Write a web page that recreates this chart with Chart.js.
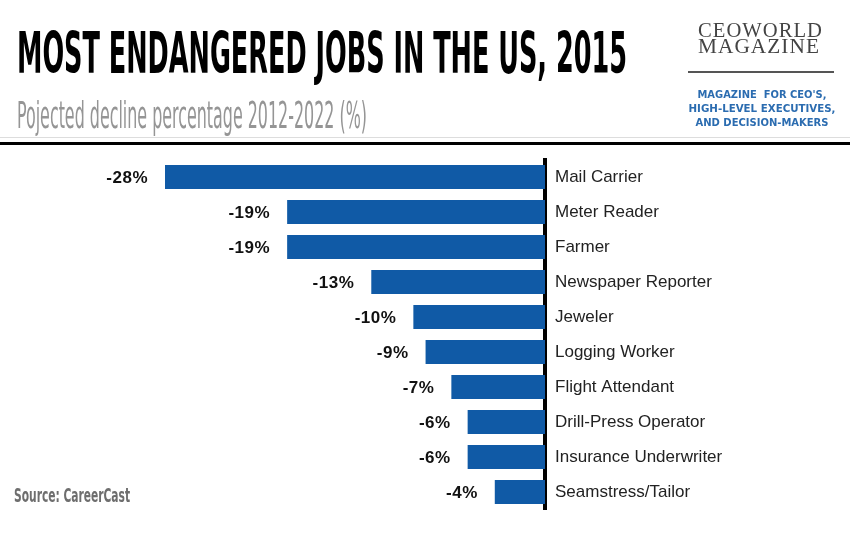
<!DOCTYPE html>
<html><head><meta charset="utf-8">
<script src="https://cdn.jsdelivr.net/npm/chart.js@4"></script>
<style>html,body{margin:0;padding:0;background:#fff}#wrap{width:850px;height:534px;position:relative}</style>
</head><body><div id="wrap"><canvas id="c" width="850" height="534"></canvas></div>
<script>
const categories = ['Mail Carrier','Meter Reader','Farmer','Newspaper Reporter','Jeweler','Logging Worker','Flight Attendant','Drill-Press Operator','Insurance Underwriter','Seamstress/Tailor'];
const declineValues = [-28, -19, -19, -12.8, -9.7, -8.8, -6.9, -5.7, -5.7, -3.7];
const valueLabels = ['-28%','-19%','-19%','-13%','-10%','-9%','-7%','-6%','-6%','-4%'];
const titleText = 'MOST ENDANGERED JOBS IN THE US, 2015';
const subtitleText = 'Pojected decline percentage 2012-2022 (%)';
const sourceText = 'Source: CareerCast';
const logoLines = ['CEOWORLD','MAGAZINE'];
const taglineLines = ["MAGAZINE  FOR CEO'S,", 'HIGH-LEVEL EXECUTIVES,', 'AND DECISION-MAKERS'];

function fitText(ctx, text, x, y, width, font, color, align) {
  ctx.font = font;
  const w = ctx.measureText(text).width;
  ctx.save();
  ctx.textAlign = 'left';
  ctx.textBaseline = 'alphabetic';
  const sx = width / w;
  const startX = align === 'center' ? x - width / 2 : x;
  ctx.translate(startX, y);
  ctx.scale(sx, 1);
  ctx.fillStyle = color;
  ctx.fillText(text, 0, 0);
  ctx.restore();
}

const decor = {
  id: 'decor',
  beforeDraw(chart) {
    const ctx = chart.ctx;
    ctx.save();
    ctx.fillStyle = '#fff';
    ctx.fillRect(0, 0, chart.width, chart.height);
    fitText(ctx, titleText, 17, 73, 610, 'bold 57px "DejaVu Sans"', '#000');
    fitText(ctx, subtitleText, 17, 128, 350, '38px "DejaVu Sans Condensed", "DejaVu Sans"', '#959595');
    fitText(ctx, sourceText, 14, 502, 116, 'bold 19px "DejaVu Sans Condensed", "DejaVu Sans"', '#6e6e6e');
    ctx.save();
    ctx.letterSpacing = '1px';
    fitText(ctx, logoLines[0], 698, 37, 125, '20px "Liberation Serif"', '#444');
    fitText(ctx, logoLines[1], 698, 53, 122, '20px "Liberation Serif"', '#444');
    ctx.restore();
    ctx.fillStyle = '#555';
    ctx.fillRect(688, 71, 146, 2);
    const tw = [129, 147, 133];
    const tb = [98, 112, 126];
    taglineLines.forEach((t, i) => fitText(ctx, t, 762, tb[i], tw[i], 'bold 11px "DejaVu Sans"', '#2b6cb0', 'center'));
    ctx.fillStyle = '#dddddd';
    ctx.fillRect(0, 137, 850, 1);
    ctx.fillStyle = '#000';
    ctx.fillRect(0, 142, 850, 3);
    ctx.restore();
  },
  afterDatasetsDraw(chart) {
    const ctx = chart.ctx;
    const meta = chart.getDatasetMeta(0);
    ctx.save();
    ctx.font = 'bold 17px "Liberation Sans"';
    ctx.letterSpacing = '0.5px';
    ctx.fillStyle = '#111';
    ctx.textAlign = 'right';
    ctx.textBaseline = 'middle';
    meta.data.forEach((el, i) => {
      ctx.fillText(valueLabels[i], el.x - 17, el.y + 1);
    });
    ctx.restore();
  }
};

new Chart(document.getElementById('c'), {
  type: 'bar',
  data: {
    labels: categories,
    datasets: [{
      data: declineValues,
      backgroundColor: '#105aa6',
      categoryPercentage: 1,
      barPercentage: 0.69
    }]
  },
  options: {
    indexAxis: 'y',
    responsive: false,
    animation: false,
    devicePixelRatio: 1,
    layout: { padding: { left: 165, top: 159.5, bottom: 24.5, right: 0 } },
    plugins: { legend: { display: false }, tooltip: { enabled: false }, title: { display: false } },
    scales: {
      x: { type: 'linear', min: -28, max: 0, display: false },
      y: {
        position: 'right',
        z: 1,
        grid: { display: false, drawTicks: false },
        border: { display: true, color: '#000', width: 4 },
        ticks: { padding: 10, color: '#222', font: { family: 'Liberation Sans', size: 17 } },
        afterFit(s) { s.width = 305; }
      }
    }
  },
  plugins: [decor]
});
</script></body></html>
